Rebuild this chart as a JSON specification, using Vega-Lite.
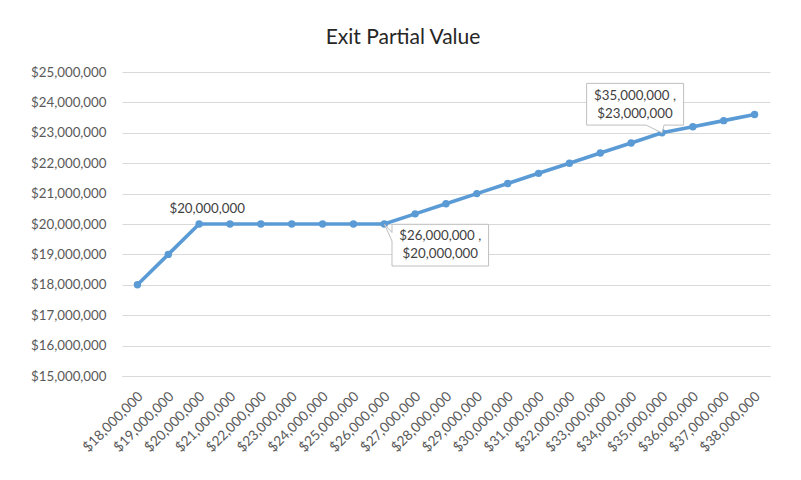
{
  "$schema": "https://vega.github.io/schema/vega-lite/v6.json",
  "width": 648,
  "height": 304,
  "autosize": {"type": "none"},
  "padding": {"left": 122, "top": 72, "right": 31, "bottom": 104},
  "background": "white",
  "title": {
    "text": "Exit Partial Value",
    "font": "Lato",
    "fontSize": 21,
    "fontWeight": "normal",
    "color": "#262626",
    "anchor": "middle",
    "dx": -43,
    "offset": 17
  },
  "datasets": {
    "exit": [
      {"exit": "$18,000,000", "value": 18000000},
      {"exit": "$19,000,000", "value": 19000000},
      {"exit": "$20,000,000", "value": 20000000},
      {"exit": "$21,000,000", "value": 20000000},
      {"exit": "$22,000,000", "value": 20000000},
      {"exit": "$23,000,000", "value": 20000000},
      {"exit": "$24,000,000", "value": 20000000},
      {"exit": "$25,000,000", "value": 20000000},
      {"exit": "$26,000,000", "value": 20000000},
      {"exit": "$27,000,000", "value": 20333333},
      {"exit": "$28,000,000", "value": 20666667},
      {"exit": "$29,000,000", "value": 21000000},
      {"exit": "$30,000,000", "value": 21333333},
      {"exit": "$31,000,000", "value": 21666667},
      {"exit": "$32,000,000", "value": 22000000},
      {"exit": "$33,000,000", "value": 22333333},
      {"exit": "$34,000,000", "value": 22666667},
      {"exit": "$35,000,000", "value": 23000000},
      {"exit": "$36,000,000", "value": 23200000},
      {"exit": "$37,000,000", "value": 23400000},
      {"exit": "$38,000,000", "value": 23600000}
    ],
    "labels": [
      {"exit": "$20,000,000", "value": 20000000, "label": "$20,000,000", "kind": "plain"},
      {"exit": "$26,000,000", "value": 20000000, "label": "$26,000,000 ,\n$20,000,000", "kind": "below"},
      {"exit": "$35,000,000", "value": 23000000, "label": "$35,000,000 ,\n$23,000,000", "kind": "above"}
    ]
  },
  "encoding": {
    "x": {
      "field": "exit",
      "type": "ordinal",
      "sort": null,
      "scale": {"type": "point", "padding": 0.5},
      "title": null,
      "axis": {
        "labelAngle": -45,
        "labelAlign": "right",
        "labelBaseline": "middle",
        "labelPadding": 18,
        "labelOffset": 3,
        "labelFontSize": 13.8,
        "ticks": false,
        "grid": false,
        "domainColor": "#d9d9d9",
        "labelOverlap": false
      }
    },
    "y": {
      "field": "value",
      "type": "quantitative",
      "scale": {"domain": [15000000, 25000000], "nice": false},
      "title": null,
      "axis": {
        "format": "$,.0f",
        "values": [15000000, 16000000, 17000000, 18000000, 19000000, 20000000, 21000000, 22000000, 23000000, 24000000, 25000000],
        "domain": false,
        "ticks": false,
        "labelPadding": 16,
        "labelFontSize": 13.3,
        "labelOverlap": false,
        "gridColor": "#d9d9d9"
      }
    }
  },
  "layer": [
    {
      "data": {"name": "exit"},
      "mark": {"type": "line", "color": "#5b9bd5", "strokeWidth": 3.6, "point": {"filled": true, "size": 55, "color": "#5b9bd5"}}
    },
    {
      "data": {"name": "labels"},
      "transform": [{"filter": "datum.kind == 'below'"}],
      "mark": {
        "type": "point",
        "filled": true,
        "fill": "white",
        "stroke": "#bfbfbf",
        "strokeWidth": 1,
        "opacity": 1,
        "size": 10000,
        "shape": "M0.154,0.006H2.086V0.84H0.154V0.34L0,0L0.154,0.17Z"
      }
    },
    {
      "data": {"name": "labels"},
      "transform": [{"filter": "datum.kind == 'above'"}],
      "mark": {
        "type": "point",
        "filled": true,
        "fill": "white",
        "stroke": "#bfbfbf",
        "strokeWidth": 1,
        "opacity": 1,
        "size": 10000,
        "shape": "M-1.508,-0.988H0.432V-0.154H0.04L0,0L-0.32,-0.154H-1.508Z"
      }
    },
    {
      "data": {"name": "labels"},
      "transform": [{"filter": "datum.kind == 'plain'"}],
      "mark": {"type": "text", "font": "Lato", "fontSize": 13.3, "color": "#404040", "dx": 8, "dy": -15, "baseline": "middle"},
      "encoding": {"text": {"field": "label"}}
    },
    {
      "data": {"name": "labels"},
      "transform": [{"filter": "datum.kind == 'below'"}],
      "mark": {"type": "text", "font": "Lato", "fontSize": 13.3, "color": "#404040", "dx": 56, "dy": 12, "baseline": "middle", "lineBreak": "\n", "lineHeight": 18},
      "encoding": {"text": {"field": "label"}}
    },
    {
      "data": {"name": "labels"},
      "transform": [{"filter": "datum.kind == 'above'"}],
      "mark": {"type": "text", "font": "Lato", "fontSize": 13.3, "color": "#404040", "dx": -27, "dy": -37, "baseline": "middle", "lineBreak": "\n", "lineHeight": 18},
      "encoding": {"text": {"field": "label"}}
    }
  ],
  "config": {
    "view": {"stroke": null},
    "axis": {"labelFont": "Lato", "labelFontSize": 13, "labelColor": "#595959"}
  }
}
